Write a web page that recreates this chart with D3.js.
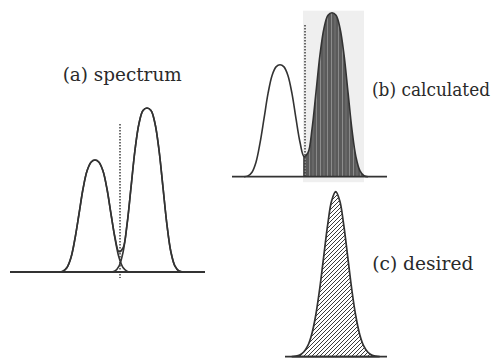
<!DOCTYPE html>
<html>
<head>
<meta charset="utf-8">
<script src="https://cdn.jsdelivr.net/npm/d3@7"></script>
<style>
  body { margin: 0; background: #fff; }
  svg { display: block; }
</style>
</head>
<body>
<svg id="chart" width="502" height="358"></svg>
<script>
// spectrum channels (x) and the two component peaks
const channels = [49, 53, 57, 61, 65, 69, 73, 77, 81, 85, 89, 93, 97, 101, 105, 109,
  113, 117, 121, 125, 129, 133, 137, 141, 145, 149, 153, 157, 161, 165, 169, 173];
const peakLeft = [0, 0.8, 4.5, 14.5, 33.5, 58, 83, 101, 109.8, 112, 109.8, 101, 83, 58, 33.5, 14.5,
  4.5, 0.8, 0, 0, 0, 0, 0, 0, 0, 0, 0, 0, 0, 0, 0, 0];
const peakRight = [0, 0, 0, 0, 0, 0, 0, 0, 0, 0, 0, 0, 0, 0, 1, 5.8,
  19.5, 46.8, 84.5, 122, 148.5, 161.5, 164, 161.5, 148.5, 122, 84.5, 46.8, 19.5, 5.8, 1, 0];

// desired (narrower) peak
const desiredChannels = [93, 97, 101, 105, 109, 113, 117, 121, 125, 129, 133, 137,
  141, 145, 149, 153, 157, 161, 165, 169, 173, 177, 181];
const desiredPeak = [0, 0.6, 1.8, 4.7, 10.8, 22.3, 41.2, 67.8, 100.1, 132.1, 156.1, 165,
  156.1, 132.1, 100.1, 67.8, 41.2, 22.3, 10.8, 4.7, 1.8, 0.6, 0];

const cutoffChannel = 110;
const panelLabels = ["(a) spectrum", "(b) calculated", "(c) desired"];

const ink = "#333";
const svg = d3.select("#chart");
const defs = svg.append("defs");

// hatch for the desired peak
const hatch = defs.append("pattern")
  .attr("id", "hatch")
  .attr("patternUnits", "userSpaceOnUse")
  .attr("width", 4).attr("height", 4);
hatch.append("rect").attr("width", 4).attr("height", 4).attr("fill", "#fff");
hatch.append("path")
  .attr("d", "M-1,1 l2,-2 M0,4 l4,-4 M3,5 l2,-2")
  .attr("stroke", "#3a3a3a").attr("stroke-width", 1);

// streaky dark fill for the calculated part
const streak = defs.append("pattern")
  .attr("id", "streak")
  .attr("patternUnits", "userSpaceOnUse")
  .attr("width", 11).attr("height", 200);
streak.append("rect").attr("width", 11).attr("height", 200).attr("fill", "#5a5a5a");
[[1.5, "#8c8c8c", 1], [5, "#707070", 1.2], [8.5, "#959595", 0.8]].forEach(([x, c, w]) => {
  streak.append("line").attr("x1", x).attr("x2", x).attr("y1", 0).attr("y2", 200)
    .attr("stroke", c).attr("stroke-width", w);
});

const spectrum = channels.map((c, i) => ({ c, l: peakLeft[i], r: peakRight[i], s: peakLeft[i] + peakRight[i] }));
const desired = desiredChannels.map((c, i) => ({ c, v: desiredPeak[i] }));

function panelScales(x0, yBase) {
  const x = d3.scaleLinear().domain([0, 195]).range([x0, x0 + 195]);
  const y = d3.scaleLinear().domain([0, 170]).range([yBase, yBase - 170]);
  return { x, y };
}

function drawBaseline(g, x, y, from, to) {
  g.append("line")
    .attr("x1", x(from)).attr("x2", x(to))
    .attr("y1", y(0)).attr("y2", y(0))
    .attr("stroke", ink).attr("stroke-width", 1.8);
}

function drawCutoff(g, x, y, top, bottom) {
  g.append("line")
    .attr("x1", x(cutoffChannel)).attr("x2", x(cutoffChannel))
    .attr("y1", y(top)).attr("y2", y(bottom))
    .attr("stroke", ink).attr("stroke-width", 1.4)
    .attr("stroke-dasharray", "1.5,1.5");
}

// (a) spectrum: both components plus their sum
{
  const { x, y } = panelScales(10, 272);
  const g = svg.append("g");
  drawBaseline(g, x, y, 0, 195);
  drawCutoff(g, x, y, 148, -6);
  const line = key => d3.line().x(d => x(d.c)).y(d => y(d[key])).curve(d3.curveCatmullRom);
  ["l", "r", "s"].forEach(k => {
    g.append("path").datum(spectrum)
      .attr("d", line(k))
      .attr("fill", "none").attr("stroke", ink).attr("stroke-width", 1.6);
  });
}

// (b) calculated: part beyond the cutoff filled
{
  const { x, y } = panelScales(195, 176.7);
  const g = svg.append("g");
  g.append("rect")
    .attr("x", x(cutoffChannel - 2)).attr("y", y(166))
    .attr("width", x(169) - x(cutoffChannel - 2)).attr("height", y(-5.5) - y(166))
    .attr("fill", "#efefef");
  defs.append("clipPath").attr("id", "clipB")
    .append("rect")
    .attr("x", x(cutoffChannel - 2)).attr("y", 0)
    .attr("width", x(195) - x(cutoffChannel - 2)).attr("height", y(0));
  const area = d3.area().x(d => x(d.c)).y0(y(0)).y1(d => y(d.s)).curve(d3.curveCatmullRom);
  g.append("path").datum(spectrum)
    .attr("d", area)
    .attr("clip-path", "url(#clipB)")
    .attr("fill", "url(#streak)");
  drawBaseline(g, x, y, 37, 192);
  g.append("path").datum(spectrum)
    .attr("d", d3.line().x(d => x(d.c)).y(d => y(d.s)).curve(d3.curveCatmullRom))
    .attr("fill", "none").attr("stroke", ink).attr("stroke-width", 1.6);
  drawCutoff(g, x, y, 151.7, 0);
}

// (c) desired
{
  const { x, y } = panelScales(198.7, 356.7);
  const g = svg.append("g");
  g.append("path").datum(desired)
    .attr("d", d3.area().x(d => x(d.c)).y0(y(0)).y1(d => y(d.v)).curve(d3.curveCatmullRom))
    .attr("fill", "url(#hatch)")
    .attr("stroke", ink).attr("stroke-width", 1.7);
  drawBaseline(g, x, y, 86.3, 188.3);
}

// labels
const labelPos = [[62.7, 81, 119], [372, 95.5, 118], [372.3, 270, 101]];
svg.selectAll(".label")
  .data(panelLabels)
  .enter()
  .append("text")
  .attr("class", "label")
  .attr("x", (d, i) => labelPos[i][0])
  .attr("y", (d, i) => labelPos[i][1])
  .attr("textLength", (d, i) => labelPos[i][2])
  .attr("lengthAdjust", "spacingAndGlyphs")
  .attr("font-family", "'DejaVu Serif', serif")
  .attr("font-size", "18.5px")
  .attr("fill", "#2a2a2a")
  .text(d => d);
</script>
</body>
</html>
